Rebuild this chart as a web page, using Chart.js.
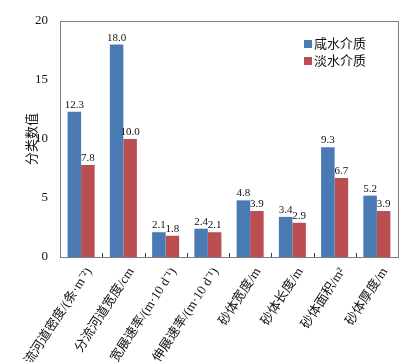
<!DOCTYPE html>
<html><head><meta charset="utf-8">
<script src="https://cdn.jsdelivr.net/npm/chart.js@4"></script>
<style>html,body{margin:0;padding:0;background:#fff;}#wrap{width:419px;height:362px;}</style>
</head><body><div id="wrap"><canvas id="c" width="419" height="362"></canvas></div>
<script>
const categories = ["分流河道密度/(条·m⁻²)", "分流河道宽度/cm", "宽展速率/(m·10 d⁻¹)", "伸展速率/(m·10 d⁻¹)", "砂体宽度/m", "砂体长度/m", "砂体面积/m²", "砂体厚度/m"];
const saltwater = [12.3, 18.0, 2.1, 2.4, 4.8, 3.4, 9.3, 5.2];
const freshwater = [7.8, 10.0, 1.8, 2.1, 3.9, 2.9, 6.7, 3.9];
const seriesNames = ["咸水介质", "淡水介质"];
const yTicks = [0, 5, 10, 15, 20];

const FONT = "'Liberation Serif', 'Noto Sans CJK SC', serif";

const framePlugin = {
  id: 'frame',
  afterDraw(chart) {
    const ctx = chart.ctx, a = chart.chartArea, x = chart.scales.x;
    ctx.save();
    ctx.strokeStyle = '#7f7f7f';
    ctx.lineWidth = 1;
    ctx.strokeRect(Math.round(a.left) + 0.5, Math.round(a.top) + 0.5, Math.round(a.right - a.left), Math.round(a.bottom - a.top));
    ctx.strokeStyle = '#404040';
    for (let i = 0; i < categories.length - 1; i++) {
      const px = Math.round((x.getPixelForValue(i) + x.getPixelForValue(i + 1)) / 2) + 0.5;
      ctx.beginPath(); ctx.moveTo(px, a.bottom); ctx.lineTo(px, a.bottom - 4); ctx.stroke();
    }
    // value labels
    ctx.fillStyle = '#111';
    ctx.font = "11px " + FONT;
    ctx.textAlign = 'center';
    ctx.textBaseline = 'alphabetic';
    chart.data.datasets.forEach((ds, di) => {
      const meta = chart.getDatasetMeta(di);
      meta.data.forEach((bar, i) => {
        ctx.fillText(ds.data[i].toFixed(1), bar.x, bar.y - 4);
      });
    });
    // legend
    ctx.font = "13px " + FONT;
    ctx.textAlign = 'left';
    ctx.textBaseline = 'middle';
    chart.data.datasets.forEach((ds, di) => {
      const y = 44 + di * 17;
      ctx.fillStyle = ds.backgroundColor;
      ctx.fillRect(304, y - 4, 8, 8);
      ctx.fillStyle = '#111';
      ctx.fillText(ds.label, 314, y + 0.5);
    });
    ctx.restore();
  }
};

new Chart(document.getElementById('c'), {
  type: 'bar',
  data: {
    labels: categories,
    datasets: [
      { label: seriesNames[0], data: saltwater, backgroundColor: '#4a7ab4' },
      { label: seriesNames[1], data: freshwater, backgroundColor: '#bb4e50' }
    ]
  },
  options: {
    responsive: false,
    animation: false,
    devicePixelRatio: 1,
    layout: { padding: { top: 21, right: 21, left: 0, bottom: 0 } },
    datasets: { bar: { categoryPercentage: 0.64, barPercentage: 1.0 } },
    plugins: { legend: { display: false }, tooltip: { enabled: false } },
    scales: {
      x: {
        grid: { display: false },
        border: { display: true, color: '#404040' },
        ticks: { color: '#111', font: { family: FONT, size: 13 }, minRotation: 57, maxRotation: 57, autoSkip: false, padding: 0, labelOffset: 8 },
        afterFit(s) { s.height = 105; }
      },
      y: {
        min: 0, max: 20,
        afterBuildTicks(s) { s.ticks = yTicks.map(v => ({ value: v })); },
        grid: { display: false },
        border: { display: true, color: '#404040' },
        ticks: { color: '#111', font: { family: FONT, size: 13 }, padding: 4 },
        title: { display: true, text: '分类数值', color: '#111', font: { family: FONT, size: 13 }, padding: { top: 25, bottom: 0 } },
        afterFit(s) { s.width = 60; }
      }
    }
  },
  plugins: [framePlugin]
});
</script></body></html>
